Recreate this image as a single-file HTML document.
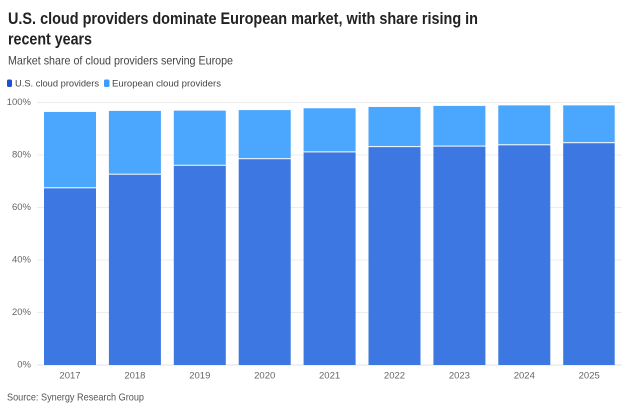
<!DOCTYPE html>
<html>
<head>
<meta charset="utf-8">
<style>
  html, body { margin: 0; padding: 0; background: #ffffff; }
  body { width: 640px; height: 409px; overflow: hidden; }
  svg { display: block; font-family: "Liberation Sans", sans-serif; }
</style>
</head>
<body>
<svg width="640" height="409" viewBox="0 0 640 409" xmlns="http://www.w3.org/2000/svg">
  <rect width="640" height="409" fill="#ffffff"/>
  <!-- Title -->
  <text x="8" y="24" font-size="16.5" font-weight="bold" fill="#222222" textLength="470" lengthAdjust="spacingAndGlyphs">U.S. cloud providers dominate European market, with share rising in</text>
  <text x="8" y="44.5" font-size="16.5" font-weight="bold" fill="#222222" textLength="84" lengthAdjust="spacingAndGlyphs">recent years</text>
  <!-- Subtitle -->
  <text x="8" y="64.5" font-size="12" fill="#444444" textLength="225" lengthAdjust="spacingAndGlyphs">Market share of cloud providers serving Europe</text>
  <!-- Legend -->
  <rect x="7" y="79.5" width="5" height="7.5" rx="1.5" fill="#1e50d0"/>
  <text x="15" y="86.5" font-size="9.5" fill="#444444" textLength="84" lengthAdjust="spacingAndGlyphs">U.S. cloud providers</text>
  <rect x="104" y="79.5" width="5.5" height="7.5" rx="1.5" fill="#3a9cff"/>
  <text x="112" y="86.5" font-size="9.5" fill="#444444" textLength="109" lengthAdjust="spacingAndGlyphs">European cloud providers</text>

  <!-- Gridlines -->
  <g stroke="#ececec" stroke-width="1">
    <line x1="37" y1="102.5" x2="622" y2="102.5"/>
    <line x1="37" y1="155" x2="622" y2="155"/>
    <line x1="37" y1="207.5" x2="622" y2="207.5"/>
    <line x1="37" y1="260" x2="622" y2="260"/>
    <line x1="37" y1="312.5" x2="622" y2="312.5"/>
    <line x1="37" y1="365" x2="622" y2="365" stroke="#e2e2e2"/>
  </g>
  <!-- Y labels -->
  <g font-size="9.5" fill="#666666" text-anchor="end" dominant-baseline="middle">
    <text x="31" y="102.5">100%</text>
    <text x="31" y="155">80%</text>
    <text x="31" y="207.5">60%</text>
    <text x="31" y="260">40%</text>
    <text x="31" y="312.5">20%</text>
    <text x="31" y="365">0%</text>
  </g>

  <!-- Bars: y(v) = 365 - v*2.625 -->
  <g>
    <!-- 2017: US 67.7, total 96.4 -->
    <rect x="44" y="111.95" width="52" height="75.34" fill="#4ba6fd"/>
    <rect x="44" y="188.29" width="52" height="176.71" fill="#3d78e2"/>
    <!-- 2018: 72.5 / 96.8 -->
    <rect x="108.9" y="110.9" width="52" height="62.79" fill="#4ba6fd"/>
    <rect x="108.9" y="174.69" width="52" height="190.31" fill="#3d78e2"/>
    <!-- 2019: 75.9 / 96.9 -->
    <rect x="173.8" y="110.64" width="52" height="54.13" fill="#4ba6fd"/>
    <rect x="173.8" y="165.76" width="52" height="199.24" fill="#3d78e2"/>
    <!-- 2020: 78.4 / 97.1 -->
    <rect x="238.7" y="110.11" width="52" height="48.09" fill="#4ba6fd"/>
    <rect x="238.7" y="159.2" width="52" height="205.8" fill="#3d78e2"/>
    <!-- 2021: 81.0 / 97.8 -->
    <rect x="303.6" y="108.28" width="52" height="43.1" fill="#4ba6fd"/>
    <rect x="303.6" y="152.38" width="52" height="212.62" fill="#3d78e2"/>
    <!-- 2022: 83.0 / 98.3 -->
    <rect x="368.5" y="106.96" width="52" height="39.16" fill="#4ba6fd"/>
    <rect x="368.5" y="147.12" width="52" height="217.88" fill="#3d78e2"/>
    <!-- 2023: 83.2 / 98.7 -->
    <rect x="433.4" y="105.91" width="52" height="39.69" fill="#4ba6fd"/>
    <rect x="433.4" y="146.6" width="52" height="218.4" fill="#3d78e2"/>
    <!-- 2024: 83.7 / 98.9 -->
    <rect x="498.3" y="105.39" width="52" height="38.9" fill="#4ba6fd"/>
    <rect x="498.3" y="145.29" width="52" height="219.71" fill="#3d78e2"/>
    <!-- 2025: 84.5 / 98.9 -->
    <rect x="563.2" y="105.39" width="51.5" height="36.8" fill="#4ba6fd"/>
    <rect x="563.2" y="143.19" width="51.5" height="221.81" fill="#3d78e2"/>
  </g>

  <!-- X labels -->
  <g font-size="9.5" fill="#666666" text-anchor="middle">
    <text x="70" y="378.5">2017</text>
    <text x="134.9" y="378.5">2018</text>
    <text x="199.8" y="378.5">2019</text>
    <text x="264.7" y="378.5">2020</text>
    <text x="329.6" y="378.5">2021</text>
    <text x="394.5" y="378.5">2022</text>
    <text x="459.4" y="378.5">2023</text>
    <text x="524.3" y="378.5">2024</text>
    <text x="589.2" y="378.5">2025</text>
  </g>

  <!-- Source -->
  <text x="7" y="400.5" font-size="10.5" fill="#555555" textLength="137" lengthAdjust="spacingAndGlyphs">Source: Synergy Research Group</text>
</svg>
</body>
</html>
